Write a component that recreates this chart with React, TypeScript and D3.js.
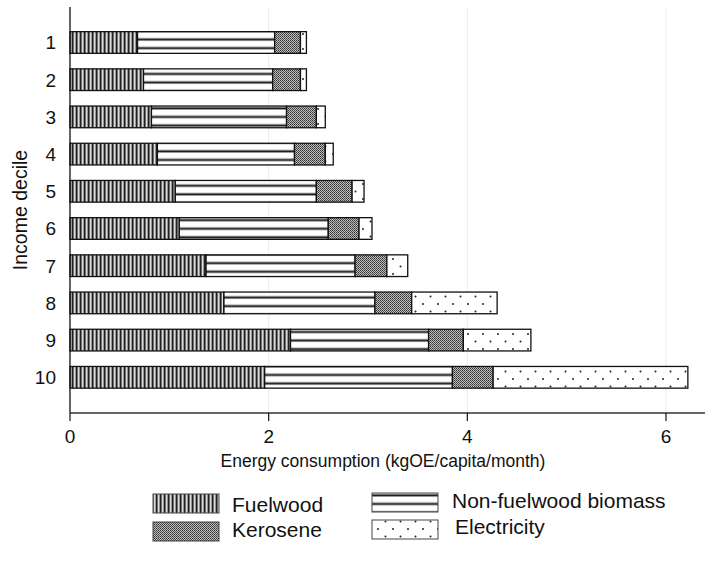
import * as d3 from "d3";
import React from "react";

// income deciles, poorest to richest
const deciles = ["1", "2", "3", "4", "5", "6", "7", "8", "9", "10"];

// kgOE/capita/month
const fuelwood = [0.68, 0.74, 0.82, 0.88, 1.06, 1.1, 1.37, 1.55, 2.22, 1.96];
const nonFuelwood = [1.38, 1.3, 1.36, 1.38, 1.42, 1.5, 1.5, 1.52, 1.39, 1.89];
const kerosene = [0.26, 0.28, 0.3, 0.31, 0.36, 0.31, 0.32, 0.37, 0.35, 0.41];
const electricity = [0.06, 0.06, 0.09, 0.08, 0.12, 0.13, 0.21, 0.86, 0.68, 1.96];

const xTicks = [0, 2, 4, 6];
const seriesKeys = ["fuelwood", "nonFuelwood", "kerosene", "electricity"];
const seriesLabels = ["Fuelwood", "Non-fuelwood biomass", "Kerosene", "Electricity"];

const W = 727;
const H = 571;
const FONT = "'Liberation Sans', Arial, Helvetica, sans-serif";

const plot = { left: 70, right: 705, top: 7, bottom: 413 };

const fills: { [k: string]: string } = {
  fuelwood: "url(#pat-fuelwood)",
  nonFuelwood: "url(#pat-nonfuel)",
  kerosene: "url(#pat-kerosene)",
  electricity: "url(#pat-elec)",
};

const Patterns = () => (
  <defs>
    <pattern id="pat-fuelwood" patternUnits="userSpaceOnUse" width={4} height={4}>
      <rect width={4} height={4} fill="#808080" />
      <rect x={0} width={1.2} height={4} fill="#222" />
      <rect x={2.2} width={1} height={4} fill="#f4f4f4" />
    </pattern>
    <pattern id="pat-nonfuel" patternUnits="userSpaceOnUse" width={8} height={8.6}>
      <rect width={8} height={8.6} fill="#ffffff" />
      <rect y={3.6} width={8} height={1.1} fill="#777" />
      <rect y={4.6} width={8} height={1.6} fill="#1a1a1a" />
    </pattern>
    <pattern id="pat-kerosene" patternUnits="userSpaceOnUse" width={2} height={2}>
      <rect width={2} height={2} fill="#bcbcbc" />
      <rect x={0} y={0} width={1} height={1} fill="#333" />
      <rect x={1} y={1} width={1} height={1} fill="#555" />
    </pattern>
    <pattern id="pat-elec" patternUnits="userSpaceOnUse" width={15} height={15}>
      <rect width={15} height={15} fill="#ffffff" />
      <circle cx={3} cy={4} r={1} fill="#222" />
      <circle cx={10.5} cy={11.5} r={1} fill="#222" />
    </pattern>
  </defs>
);

const App = () => {
  const rows = deciles.map((d, i) => ({
    decile: d,
    fuelwood: fuelwood[i],
    nonFuelwood: nonFuelwood[i],
    kerosene: kerosene[i],
    electricity: electricity[i],
  }));

  const stack = d3.stack<any>().keys(seriesKeys);
  const layers = stack(rows);

  const xScale = d3.scaleLinear().domain([0, 6]).range([plot.left, 666]);

  const yScale = d3
    .scaleBand()
    .domain(deciles)
    .range([23.9, 395.9])
    .paddingInner(0.417)
    .paddingOuter(0.2085);

  const bw = yScale.bandwidth();

  // legend layout: two columns, two rows
  const legendItems = [
    { key: "fuelwood", x: 153, y: 494, tx: 232, ty: 512 },
    { key: "kerosene", x: 153, y: 522, tx: 232, ty: 537 },
    { key: "nonFuelwood", x: 372, y: 493, tx: 452, ty: 508 },
    { key: "electricity", x: 372, y: 520, tx: 455, ty: 534 },
  ];

  return (
    <div style={{ position: "absolute", left: 0, top: 0 }}>
      <svg width={W} height={H} style={{ display: "block", background: "#fff" }}>
        <Patterns />

        {/* faint gridlines */}
        {xTicks
          .filter((t) => t > 0)
          .map((t) => (
            <line
              key={"g" + t}
              x1={xScale(t)}
              x2={xScale(t)}
              y1={plot.top}
              y2={plot.bottom}
              stroke="#e6eeee"
              strokeWidth={1}
            />
          ))}

        {/* stacked bars */}
        {layers.map((layer) => (
          <g key={layer.key}>
            {layer.map((seg, i) => (
              <rect
                key={i}
                x={xScale(seg[0])}
                y={yScale(deciles[i])}
                width={xScale(seg[1]) - xScale(seg[0])}
                height={bw}
                fill={fills[layer.key]}
                stroke="#111"
                strokeWidth={1.3}
              />
            ))}
          </g>
        ))}

        {/* axes */}
        <line x1={plot.left} x2={plot.left} y1={plot.top} y2={plot.bottom} stroke="#111" strokeWidth={1.3} />
        <line x1={plot.left} x2={plot.right} y1={plot.bottom} y2={plot.bottom} stroke="#333" strokeWidth={1.3} />
        {xTicks.map((t) => (
          <g key={"t" + t}>
            <line x1={xScale(t)} x2={xScale(t)} y1={plot.bottom} y2={plot.bottom + 8} stroke="#111" strokeWidth={1.2} />
            <text
              x={xScale(t)}
              y={443}
              textAnchor="middle"
              fontFamily={FONT}
              fontSize={19}
              fill="#111"
            >
              {t}
            </text>
          </g>
        ))}

        {deciles.map((d) => (
          <text
            key={"y" + d}
            x={56}
            y={(yScale(d) as number) + bw / 2}
            dy="0.36em"
            textAnchor="end"
            fontFamily={FONT}
            fontSize={19}
            fill="#111"
          >
            {d}
          </text>
        ))}

        <text
          transform={`translate(27, ${(plot.top + plot.bottom) / 2}) rotate(-90)`}
          textAnchor="middle"
          fontFamily={FONT}
          fontSize={19.5}
          fill="#111"
        >
          Income decile
        </text>

        <text x={383} y={467} textAnchor="middle" fontFamily={FONT} fontSize={17.5} fill="#111">
          Energy consumption (kgOE/capita/month)
        </text>

        {/* legend */}
        {legendItems.map((it) => (
          <g key={"l" + it.key}>
            <rect
              x={it.x}
              y={it.y}
              width={66}
              height={19}
              fill={fills[it.key]}
              stroke="#444"
              strokeWidth={1}
            />
            <text x={it.tx} y={it.ty} fontFamily={FONT} fontSize={21} fill="#111">
              {seriesLabels[seriesKeys.indexOf(it.key)]}
            </text>
          </g>
        ))}
      </svg>
    </div>
  );
};

export default App;
